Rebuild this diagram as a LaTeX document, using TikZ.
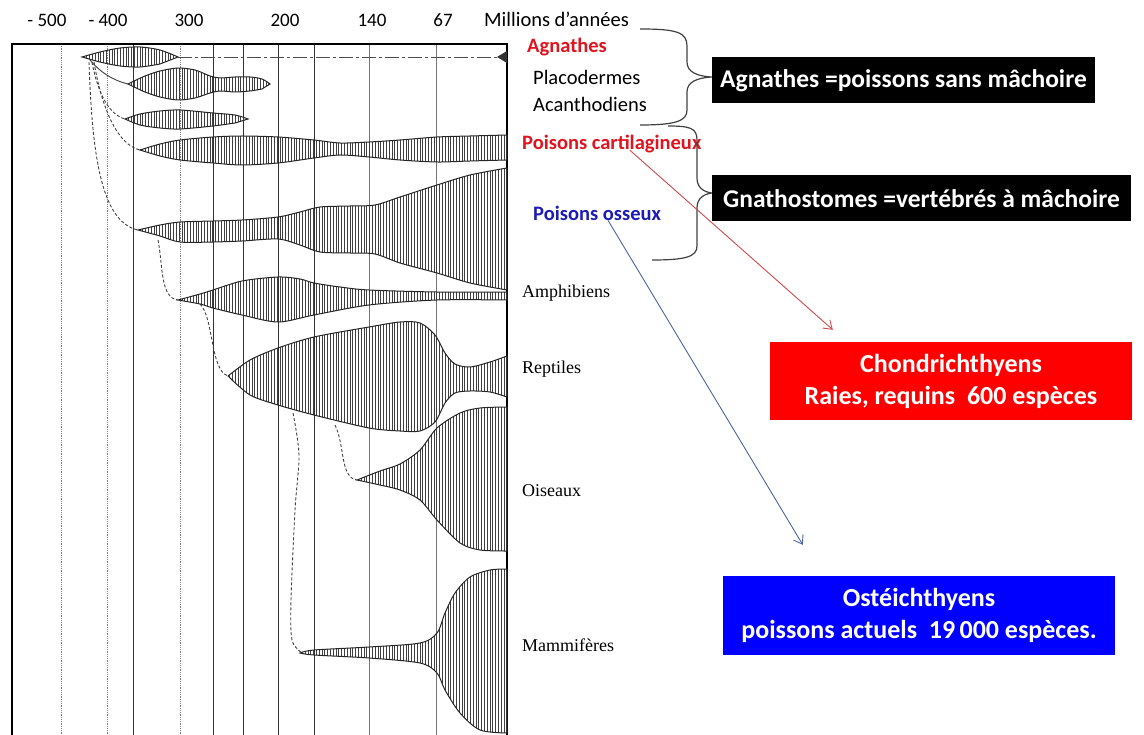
\documentclass[tikz,border=0pt]{standalone}
\usepackage{fontspec}
\setmainfont{Carlito}
\newfontfamily\scanfont{Liberation Serif}
\usepackage{tikz}
\usetikzlibrary{arrows.meta, patterns.meta}
\definecolor{rougelab}{HTML}{E0141E}
\definecolor{bleulab}{HTML}{1C1CB4}
\definecolor{rougeboite}{HTML}{FF0000}
\definecolor{bleuboite}{HTML}{0000FF}
\definecolor{flecheR}{HTML}{D04848}
\definecolor{flecheB}{HTML}{4A64A8}
\tikzset{
	fuseau/.style={draw=black!85, line width=1pt,
		pattern={Lines[angle=90, distance=2.8pt, line width=0.9pt]}, pattern color=black!75},
	lignee/.style={draw=black!75, line width=0.9pt, densely dashed},
	grille/.style={black!80, line width=0.8pt},
	grillep/.style={black!50, line width=0.8pt, densely dotted},
	axe/.style={inner sep=0pt, font=\fontsize{19}{21}\selectfont},
	groupe/.style={anchor=west, inner sep=0pt, font=\fontsize{20.5}{22}\selectfont},
	taxon/.style={anchor=west, inner sep=0pt, font=\scanfont\fontsize{18}{20}\selectfont},
	bandeau/.style={fill=black, text=white, minimum height=46pt, inner sep=0pt,
		font=\bfseries\fontsize{25.5}{28}\selectfont},
	boite/.style={text=white, align=center, minimum height=79pt, inner sep=0pt,
		font=\bfseries\fontsize{26}{32}\selectfont},
	accolade/.style={black!75, line width=1.2pt},
	arr/.style={-{Straight Barb[length=8pt, width=11pt]}, line width=0.9pt},
}

\begin{document}
\begin{tikzpicture}[x=1pt, y=-1pt]
	\useasboundingbox (0,0) rectangle (1144,735);
	% grille des temps
	\foreach \x in {133,213,243,278,314}
		\draw[grille] (\x,44) -- (\x,735);
	\foreach \x in {61,107,180}
		\draw[grillep] (\x,44) -- (\x,735);
	\foreach \x in {369,436}
		\draw[grille, black!55] (\x,44) -- (\x,735);
	\draw[line width=1.3pt] (12,735) -- (12,44) -- (507,44) -- (507,735);
	\node[axe] (t500) at (47,20) {- 500};
	\node[axe] (t400) at (108,20) {- 400};
	\node[axe] (t300) at (189,20) {300};
	\node[axe] (t200) at (285,20) {200};
	\node[axe] (t140) at (372,20) {140};
	\node[axe] (t67) at (443,20) {67};
	\node[groupe] (unite) at (484,19) {Millions d’années};

	% fuseaux
	\draw[fuseau] plot[smooth] coordinates {(82,57) (100,52) (120,48) (140,47) (160,50) (178,57)}
		-- plot[smooth] coordinates {(160,64) (140,67) (120,66) (100,62) (82,57)} -- cycle;
	\draw[black!70, line width=0.9pt, dash pattern=on 14pt off 3pt on 3pt off 3pt] (178,57) -- (498,57);
	\fill[black!80] (497,57) -- (507,51) -- (507,63) -- cycle;
	\draw[fuseau] plot[smooth] coordinates {(128,84) (145,76) (160,71) (178,68) (195,70) (210,76) (220,78) (235,77) (250,77) (262,79) (270,84)}
		-- plot[smooth] coordinates {(262,89) (250,91) (235,92) (220,91) (210,93) (195,98) (178,100) (160,97) (145,92) (128,84)} -- cycle;
	\draw[fuseau] plot[smooth] coordinates {(125,119) (140,114) (160,111) (180,110) (213,113) (235,115) (248,119)}
		-- plot[smooth] coordinates {(235,123) (213,126) (180,129) (160,128) (140,125) (125,119)} -- cycle;
	\draw[fuseau] plot[smooth] coordinates {(140,150) (160,144) (180,140) (213,137) (242,136) (278,137) (314,140) (340,143) (369,142) (400,140) (437,137) (470,136) (507,135)}
		-- plot[smooth] coordinates {(507,160) (470,161) (437,162) (400,160) (369,157) (340,155) (314,158) (278,163) (242,165) (213,163) (180,160) (160,156) (140,150)} -- cycle;
	\draw[fuseau] plot[smooth] coordinates {(138,230) (160,225) (180,222) (213,221) (242,220) (278,217) (300,212) (320,207) (350,206) (375,205) (400,197) (437,185) (470,175) (507,168)}
		-- plot[smooth] coordinates {(507,290) (470,283) (437,273) (400,263) (375,254) (350,253) (320,252) (300,245) (278,239) (242,241) (213,242) (180,242) (160,236) (138,230)} -- cycle;
	\draw[fuseau] plot[smooth] coordinates {(178,300) (200,294) (213,290) (242,281) (278,277) (300,279) (314,283) (340,287) (369,290) (437,292) (507,292)}
		-- plot[smooth] coordinates {(507,300) (437,300) (369,305) (314,315) (278,322) (242,315) (213,308) (200,304) (178,300)} -- cycle;
	\draw[fuseau] plot[smooth] coordinates {(228,376) (250,360) (278,348) (314,337) (369,327) (400,322) (420,323) (435,335) (445,353) (455,364) (470,367) (490,362) (507,356)}
		-- plot[smooth] coordinates {(507,397) (490,392) (470,391) (455,393) (445,403) (435,422) (420,431) (400,431) (369,428) (314,415) (278,405) (250,395) (228,376)} -- cycle;
	\draw[fuseau] plot[smooth] coordinates {(357,480) (380,471) (400,464) (420,450) (437,428) (460,413) (480,408) (507,407)}
		-- plot[smooth] coordinates {(507,551) (480,550) (460,543) (437,520) (420,500) (400,490) (380,485) (357,480)} -- cycle;
	\draw[fuseau] plot[smooth] coordinates {(300,653) (314,650) (369,647) (420,643) (437,633) (445,613) (455,593) (470,577) (490,570) (507,569)}
		-- plot[smooth] coordinates {(507,733) (480,730) (460,713) (445,690) (437,673) (420,663) (369,658) (314,655) (300,653)} -- cycle;

	% lignees
	\draw[black!75, line width=0.9pt] (90,60) .. controls (100,72) and (112,80) .. (128,84);
	\draw[lignee] (92,62) .. controls (98,95) and (110,115) .. (125,119);
	\draw[lignee] (94,62) .. controls (102,110) and (118,145) .. (140,150);
	\draw[lignee] (89,62) .. controls (92,150) and (100,222) .. (138,230);
	\draw[lignee] (158,240) .. controls (163,265) and (160,298) .. (178,300);
	\draw[lignee] (200,304) .. controls (214,318) and (210,370) .. (228,376);
	\draw[lignee] (335,425) .. controls (345,445) and (340,478) .. (357,480);
	\draw[lignee] plot[smooth] coordinates {(293,413) (299,455) (295,510) (291,600) (292,640) (302,653)};

	% etiquettes
	\node[groupe, rougelab, font=\bfseries\fontsize{20.5}{22}\selectfont] (agn) at (527,47) {Agnathes};
	\node[groupe] (placo) at (533,77) {Placodermes};
	\node[groupe] (acan) at (533,104) {Acanthodiens};
	\node[groupe, rougelab, font=\bfseries\fontsize{20.5}{22}\selectfont] (cartil) at (522,144) {Poisons cartilagineux};
	\node[groupe, bleulab, font=\bfseries\fontsize{20.5}{22}\selectfont] (osseux) at (533,213) {Poisons osseux};
	\node[taxon] (amph) at (522,293) {Amphibiens};
	\node[taxon] (rept) at (522,369) {Reptiles};
	\node[taxon] (ois) at (522,491) {Oiseaux};
	\node[taxon] (mamm) at (522,645) {Mammifères};

	% accolades et bandeaux
	\draw[accolade] (640,29) .. controls (676,29) and (687,32) .. (687,46) -- (687,62)
		.. controls (687,72) and (697,76) .. (711,77) .. controls (697,78) and (687,82) .. (687,92)
		-- (687,110) .. controls (687,121) and (676,125) .. (640,125);
	\draw[accolade] (668,126) .. controls (690,126) and (697,128) .. (697,140) -- (697,178)
		.. controls (697,187) and (703,192) .. (712,193) .. controls (703,194) and (697,199) .. (697,208)
		-- (697,246) .. controls (697,257) and (685,260) .. (652,260);
	\node[bandeau, minimum width=383pt] (sansmach) at (903.5,80.5) {Agnathes =poissons sans mâchoire};
	\node[bandeau, minimum width=419pt] (avecmach) at (921.5,198.5) {Gnathostomes =vertébrés à mâchoire};

	\node[boite, fill=rougeboite, minimum width=362pt, minimum height=78pt] (chondro) at (951,381)
		{Chondrichthyens\\Raies, requins\ \ 600 espèces};
	\node[boite, fill=bleuboite, minimum width=392pt] (osteo) at (919,615.5)
		{Ostéichthyens\\poissons actuels\ \ 19\,000 espèces.};

	\draw[arr, flecheR] ([xshift=18pt, yshift=3pt]cartil.south) -- ([xshift=63pt, yshift=12pt]chondro.north west);
	\draw[arr, flecheB] ([xshift=11pt]osseux.south) -- ([xshift=80pt, yshift=31pt]osteo.north west);
\end{tikzpicture}
\end{document}
